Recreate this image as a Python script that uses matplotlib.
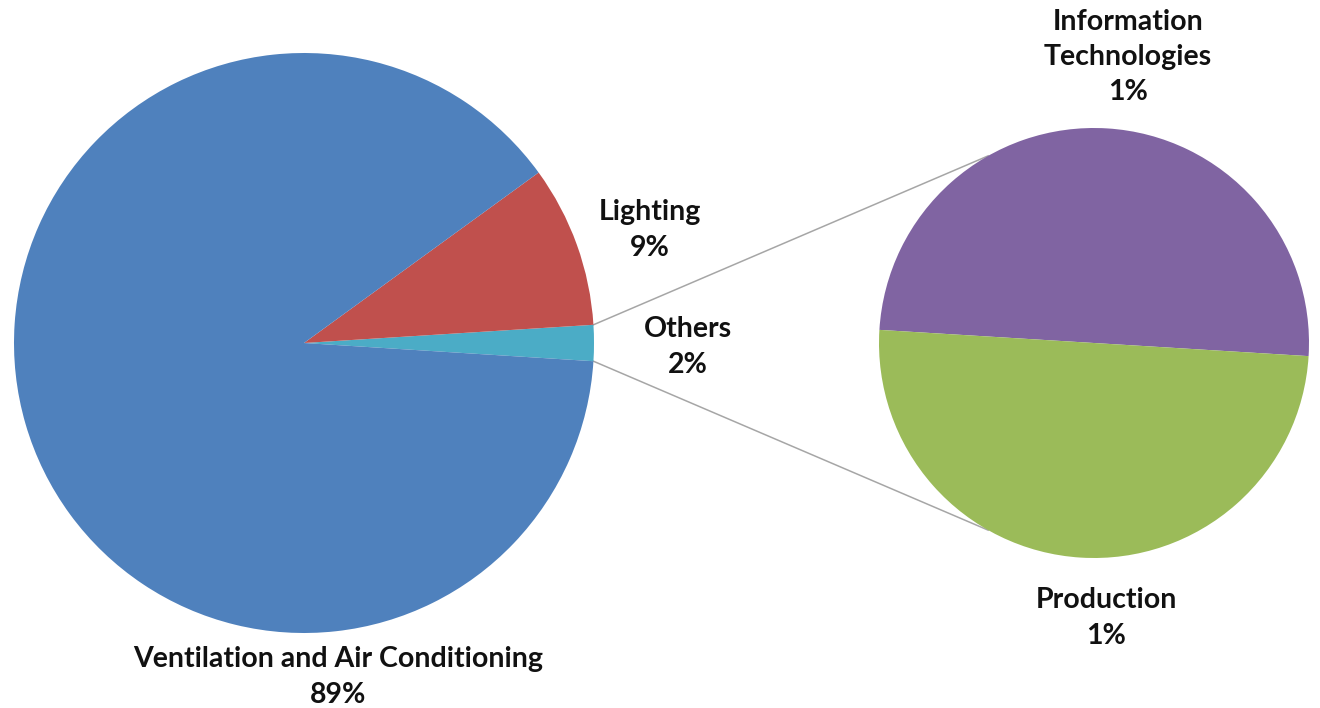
import numpy as np
import matplotlib
matplotlib.use("Agg")
import matplotlib.pyplot as plt

# Data
main_labels = ["Others", "Lighting", "Ventilation and Air Conditioning"]
main_values = [2, 9, 89]
main_colors = ["#4BACC6", "#C0504D", "#4F81BD"]

sub_labels = ["Information\nTechnologies", "Production"]
sub_values = [1, 1]
sub_colors = ["#8064A2", "#9BBB59"]

W, H = 1320, 708
fig = plt.figure(figsize=(W / 100, H / 100), dpi=100)
ax = fig.add_axes([0, 0, 1, 1])

c1 = (304, H - 343)
r1 = 290
c2 = (1094, H - 343)
r2 = 215

others_angle = 360 * main_values[0] / sum(main_values)
start1 = -others_angle / 2
ax.pie(main_values, colors=main_colors, startangle=start1, counterclock=True,
       center=c1, radius=r1, wedgeprops=dict(linewidth=0), frame=True)
ax.pie(sub_values, colors=sub_colors, startangle=-3.5, counterclock=True,
       center=c2, radius=r2, wedgeprops=dict(linewidth=0), frame=True)
ax.set_xlim(0, W)
ax.set_ylim(0, H)
ax.set_aspect("equal")
ax.axis("off")

# connector lines
for a1, a2 in [(others_angle / 2, 119.5), (-others_angle / 2, -119.5)]:
    p1 = (c1[0] + r1 * np.cos(np.radians(a1)), c1[1] + r1 * np.sin(np.radians(a1)))
    p2 = (c2[0] + r2 * np.cos(np.radians(a2)), c2[1] + r2 * np.sin(np.radians(a2)))
    ax.plot([p1[0], p2[0]], [p1[1], p2[1]], color="#A6A6A6", lw=1.1, zorder=0)

fs = 20.5
tkw = dict(fontfamily="Lato", fontweight="bold", fontsize=fs, color="#111111",
           ha="center", va="center", linespacing=1.45)
pct = lambda v: f"{v}%"
ax.text(338, H - 677, f"{main_labels[2]}\n{pct(main_values[2])}", **tkw)
ax.text(650, H - 230, f"{main_labels[1]}\n{pct(main_values[1])}", **tkw)
ax.text(688, H - 347, f"{main_labels[0]}\n{pct(main_values[0])}", **tkw)
ax.text(1128, H - 57, f"{sub_labels[0]}\n{pct(sub_values[0])}", **tkw)
ax.text(1106, H - 618, f"{sub_labels[1]}\n{pct(sub_values[1])}", **tkw)

fig.savefig("out.png", dpi=100)
